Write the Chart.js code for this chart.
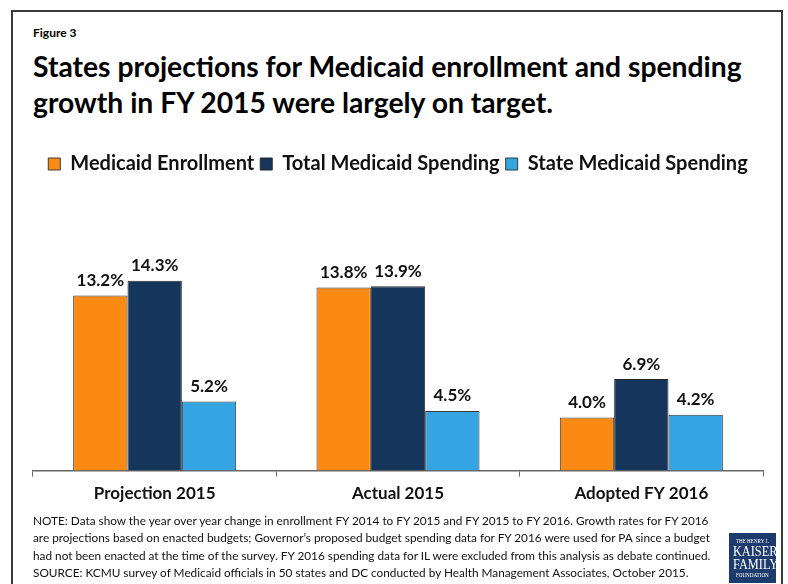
<!DOCTYPE html>
<html>
<head>
<meta charset="utf-8">
<script src="https://cdn.jsdelivr.net/npm/chart.js@4"></script>
<style>
  body { margin: 0; background: #fff; width: 788px; height: 584px; overflow: hidden; position: relative; font-family: Lato, "Open Sans", sans-serif; }
  #frame { position: absolute; left: 11px; top: 10px; width: 768px; height: 600px; border: 2px solid #3a3a3a; }
  #fig { position: absolute; left: 33px; top: 25px; font-size: 12px; font-weight: bold; }
  #title { position: absolute; left: 33px; top: 48px; font-size: 28.3px; font-weight: bold; line-height: 36px; white-space: nowrap; }
  #note { position: absolute; left: 33px; top: 512px; font-size: 11.8px; line-height: 17.3px; white-space: nowrap; color: #111; }
  #logo { position: absolute; left: 729px; top: 533px; width: 47px; height: 50px; background: #1d3b6c; color: #fff; font-family: "Liberation Serif", serif; text-align: center; overflow: hidden; padding-top: 4px; box-sizing: border-box; }
  #logo div { white-space: nowrap; }
  #logo span { display: inline-block; transform: scaleX(0.85); }
  #logo .s { font-size: 6px; line-height: 8px; }
  #logo .b { font-size: 14.5px; line-height: 13px; }
  #wrap { position: absolute; left: 0; top: 0; width: 788px; height: 584px; }
</style>
</head>
<body>
<div id="frame"></div>
<div id="fig">Figure 3</div>
<div id="title">States projections for Medicaid enrollment and spending<br>growth in FY 2015 were largely on target.</div>
<div id="wrap"><canvas id="graphCanvas" width="788" height="584"></canvas></div>
<div id="note">NOTE: Data show the year over year change in enrollment FY 2014 to FY 2015 and FY 2015 to FY 2016. Growth rates for FY 2016<br>are projections based on enacted budgets; Governor’s proposed budget spending data for FY 2016 were used for PA since a budget<br>had not been enacted at the time of the survey. FY 2016 spending data for IL were excluded from this analysis as debate continued.<br>SOURCE: KCMU survey of Medicaid officials in 50 states and DC conducted by Health Management Associates, October 2015.</div>
<div id="logo"><div class="s"><span>THE HENRY J.</span></div><div class="b"><span>KAISER</span></div><div class="b"><span>FAMILY</span></div><div class="s"><span>FOUNDATION</span></div></div>
<script>
var categories = ['Projection 2015', 'Actual 2015', 'Adopted FY 2016'];
var enrollment = [13.2, 13.8, 4.0];
var totalSpending = [14.3, 13.9, 6.9];
var stateSpending = [5.2, 4.5, 4.2];

var barLabels = {
    id: 'barLabels',
    afterDatasetsDraw: function (chart) {
        var ctx = chart.ctx;
        ctx.save();
        ctx.font = 'bold 17px Lato';
        ctx.fillStyle = '#111';
        ctx.textAlign = 'center';
        ctx.textBaseline = 'middle';
        chart.data.datasets.forEach(function (ds, i) {
            chart.getDatasetMeta(i).data.forEach(function (bar, j) {
                ctx.fillText(ds.data[j].toFixed(1) + '%', bar.x, bar.y - 15);
            });
        });
        ctx.restore();
    }
};

var chartdata = {
    labels: categories,
    datasets: [
        { label: 'Medicaid Enrollment', data: enrollment, backgroundColor: '#FA8A14', borderColor: '#3a3a3a', borderWidth: 1 },
        { label: 'Total Medicaid Spending', data: totalSpending, backgroundColor: '#15355A', borderColor: '#2a2a2a', borderWidth: 1 },
        { label: 'State Medicaid Spending', data: stateSpending, backgroundColor: '#35A4E2', borderColor: '#3a3a3a', borderWidth: 1 }
    ]
};

new Chart(document.getElementById('graphCanvas'), {
    type: 'bar',
    data: chartdata,
    plugins: [barLabels],
    options: {
        responsive: false,
        animation: false,
        devicePixelRatio: 1,
        layout: { padding: { left: 33, right: 25, top: 148, bottom: 73 } },
        categoryPercentage: 0.67,
        barPercentage: 1.0,
        plugins: {
            legend: {
                position: 'top',
                labels: {
                    boxWidth: 12, boxHeight: 12, padding: 6,
                    color: '#111',
                    font: { family: 'Lato', size: 20, weight: 'bold' }
                }
            },
            tooltip: { enabled: false }
        },
        scales: {
            x: {
                grid: { drawOnChartArea: false, drawTicks: true, tickLength: 6, color: '#666' },
                border: { color: '#666', width: 1.5 },
                ticks: { color: '#111', padding: 7, font: { family: 'Lato', size: 17, weight: 'bold' } }
            },
            y: { display: false, min: 0, max: 21.6 }
        }
    }
});
</script>
</body>
</html>
